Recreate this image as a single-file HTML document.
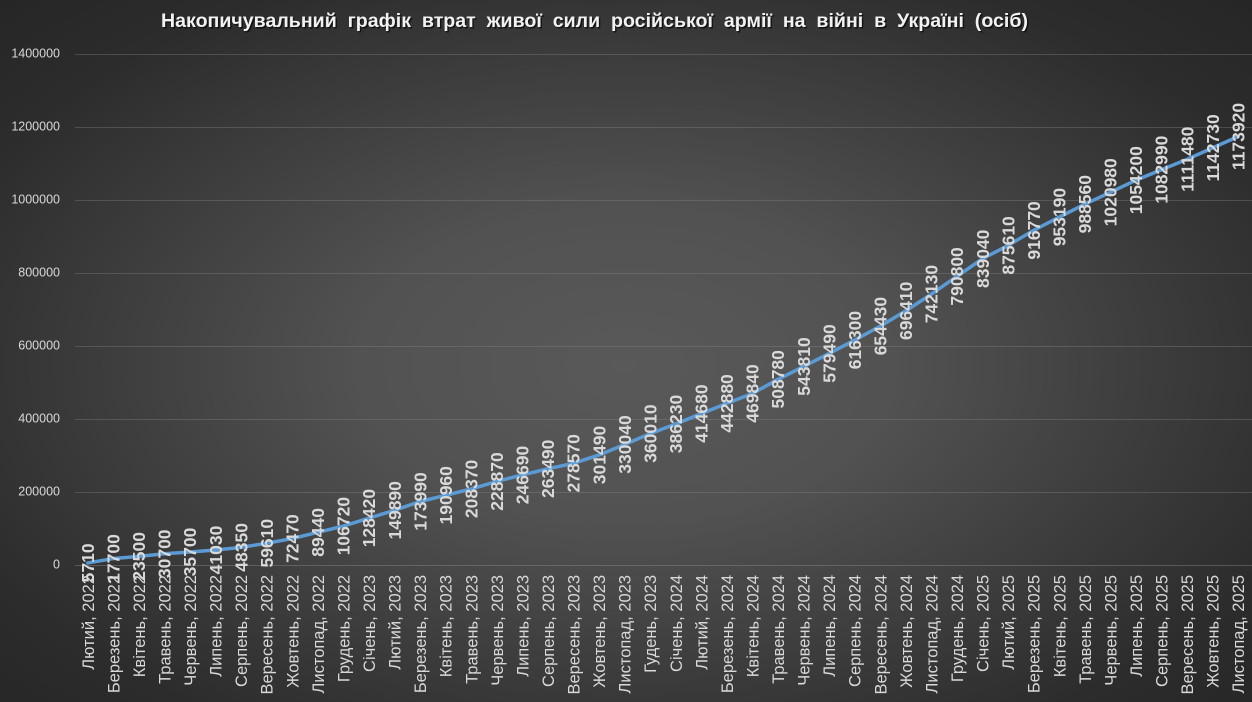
<!DOCTYPE html>
<html>
<head>
<meta charset="utf-8">
<style>
  html,body{margin:0;padding:0;}
  body{width:1252px;height:702px;overflow:hidden;
    background: radial-gradient(ellipse farthest-corner at 50% 52%, #595959 0%, #525252 30%, #2c2c2c 82%, #262626 100%);}
  svg{display:block;}
  .yl{font-family:"Liberation Sans",sans-serif;font-size:12.5px;fill:#d9d9d9;}
  .xl{font-family:"Liberation Sans",sans-serif;font-size:16.5px;fill:#d9d9d9;}
  .dl{font-family:"Liberation Sans",sans-serif;font-size:17.5px;font-weight:bold;fill:#d9d9d9;}
  .tt{font-family:"Liberation Sans",sans-serif;font-size:19px;font-weight:bold;white-space:pre;}
</style>
</head>
<body>
<svg width="1252" height="702" viewBox="0 0 1252 702" xmlns="http://www.w3.org/2000/svg">
  <!-- Title -->
  <text class="tt" x="162.5" y="28.5" fill="#0a0a0a" opacity="0.75" textLength="867" lengthAdjust="spacingAndGlyphs">Накопичувальний  графік  втрат  живої  сили  російської  армії  на  війні  в  Україні  (осіб)</text>
  <text class="tt" x="161" y="27" fill="#f2f2f2" textLength="867" lengthAdjust="spacingAndGlyphs">Накопичувальний  графік  втрат  живої  сили  російської  армії  на  війні  в  Україні  (осіб)</text>

  <!-- Gridlines -->
  <g stroke="#8a8a8a" stroke-opacity="0.35" stroke-width="1">
    <line x1="75" y1="54.5" x2="1252" y2="54.5"/>
    <line x1="75" y1="127.5" x2="1252" y2="127.5"/>
    <line x1="75" y1="200.5" x2="1252" y2="200.5"/>
    <line x1="75" y1="273.5" x2="1252" y2="273.5"/>
    <line x1="75" y1="346.5" x2="1252" y2="346.5"/>
    <line x1="75" y1="419.5" x2="1252" y2="419.5"/>
    <line x1="75" y1="492.5" x2="1252" y2="492.5"/>
    <line x1="75" y1="565.5" x2="1252" y2="565.5" stroke-opacity="0.45"/>
  </g>

  <!-- Y axis labels -->
  <g class="yl" text-anchor="end">
    <text x="60" y="57.5">1400000</text>
    <text x="60" y="130.5">1200000</text>
    <text x="60" y="203.5">1000000</text>
    <text x="60" y="276.5">800000</text>
    <text x="60" y="349.5">600000</text>
    <text x="60" y="422.5">400000</text>
    <text x="60" y="495.5">200000</text>
    <text x="60" y="568.5">0</text>
  </g>

  <!-- Series line -->
  <polyline fill="none" stroke="#5b9bd5" stroke-width="3.5" stroke-linejoin="round" stroke-linecap="round"
    points="87.78,562.92 113.35,558.54 138.91,556.42 164.48,553.79 190.04,551.97 215.61,550.02 241.17,547.35 266.74,543.24 292.30,538.55 317.87,532.35 343.43,526.05 369.00,518.13 394.56,510.29 420.13,501.49 445.69,495.30 471.26,488.94 496.82,481.46 522.39,474.96 547.95,468.83 573.52,463.32 599.08,454.96 624.65,444.54 650.21,433.60 675.78,424.03 701.34,413.64 726.91,403.35 752.47,393.51 778.04,379.30 803.60,366.51 829.17,353.49 854.73,340.05 880.30,326.13 905.86,310.81 931.43,294.12 956.99,276.36 982.56,258.75 1008.12,245.40 1033.69,230.38 1059.25,217.09 1084.82,204.18 1110.38,192.34 1135.95,180.22 1161.51,169.71 1187.08,159.31 1212.64,147.90 1238.21,136.52"/>

  <!-- X axis labels -->
  <g class="xl" text-anchor="end">
    <text transform="translate(93.8,575) rotate(-90)">Лютий, 2022</text>
    <text transform="translate(119.4,575) rotate(-90)">Березень, 2022</text>
    <text transform="translate(144.9,575) rotate(-90)">Квітень, 2022</text>
    <text transform="translate(170.5,575) rotate(-90)">Травень, 2022</text>
    <text transform="translate(196.0,575) rotate(-90)">Червень, 2022</text>
    <text transform="translate(221.6,575) rotate(-90)">Липень, 2022</text>
    <text transform="translate(247.2,575) rotate(-90)">Серпень, 2022</text>
    <text transform="translate(272.7,575) rotate(-90)">Вересень, 2022</text>
    <text transform="translate(298.3,575) rotate(-90)">Жовтень, 2022</text>
    <text transform="translate(323.9,575) rotate(-90)">Листопад, 2022</text>
    <text transform="translate(349.4,575) rotate(-90)">Грудень, 2022</text>
    <text transform="translate(375.0,575) rotate(-90)">Січень, 2023</text>
    <text transform="translate(400.6,575) rotate(-90)">Лютий, 2023</text>
    <text transform="translate(426.1,575) rotate(-90)">Березень, 2023</text>
    <text transform="translate(451.7,575) rotate(-90)">Квітень, 2023</text>
    <text transform="translate(477.3,575) rotate(-90)">Травень, 2023</text>
    <text transform="translate(502.8,575) rotate(-90)">Червень, 2023</text>
    <text transform="translate(528.4,575) rotate(-90)">Липень, 2023</text>
    <text transform="translate(554.0,575) rotate(-90)">Серпень, 2023</text>
    <text transform="translate(579.5,575) rotate(-90)">Вересень, 2023</text>
    <text transform="translate(605.1,575) rotate(-90)">Жовтень, 2023</text>
    <text transform="translate(630.7,575) rotate(-90)">Листопад, 2023</text>
    <text transform="translate(656.2,575) rotate(-90)">Гудень, 2023</text>
    <text transform="translate(681.8,575) rotate(-90)">Січень, 2024</text>
    <text transform="translate(707.3,575) rotate(-90)">Лютий, 2024</text>
    <text transform="translate(732.9,575) rotate(-90)">Березень, 2024</text>
    <text transform="translate(758.5,575) rotate(-90)">Квітень, 2024</text>
    <text transform="translate(784.0,575) rotate(-90)">Травень, 2024</text>
    <text transform="translate(809.6,575) rotate(-90)">Червень, 2024</text>
    <text transform="translate(835.2,575) rotate(-90)">Липень, 2024</text>
    <text transform="translate(860.7,575) rotate(-90)">Серпень, 2024</text>
    <text transform="translate(886.3,575) rotate(-90)">Вересень, 2024</text>
    <text transform="translate(911.9,575) rotate(-90)">Жовтень, 2024</text>
    <text transform="translate(937.4,575) rotate(-90)">Листопад, 2024</text>
    <text transform="translate(963.0,575) rotate(-90)">Грудень, 2024</text>
    <text transform="translate(988.6,575) rotate(-90)">Січень, 2025</text>
    <text transform="translate(1014.1,575) rotate(-90)">Лютий, 2025</text>
    <text transform="translate(1039.7,575) rotate(-90)">Березень, 2025</text>
    <text transform="translate(1065.3,575) rotate(-90)">Квітень, 2025</text>
    <text transform="translate(1090.8,575) rotate(-90)">Травень, 2025</text>
    <text transform="translate(1116.4,575) rotate(-90)">Червень, 2025</text>
    <text transform="translate(1142.0,575) rotate(-90)">Липень, 2025</text>
    <text transform="translate(1167.5,575) rotate(-90)">Серпень, 2025</text>
    <text transform="translate(1193.1,575) rotate(-90)">Вересень, 2025</text>
    <text transform="translate(1218.6,575) rotate(-90)">Жовтень, 2025</text>
    <text transform="translate(1244.2,575) rotate(-90)">Листопад, 2025</text>
  </g>

  <!-- Data labels -->
  <g class="dl" text-anchor="middle">
    <text transform="translate(94.0,562.9) rotate(-90)">5710</text>
    <text transform="translate(119.6,558.5) rotate(-90)">17700</text>
    <text transform="translate(145.1,556.4) rotate(-90)">23500</text>
    <text transform="translate(170.7,553.8) rotate(-90)">30700</text>
    <text transform="translate(196.2,552.0) rotate(-90)">35700</text>
    <text transform="translate(221.8,550.0) rotate(-90)">41030</text>
    <text transform="translate(247.4,547.4) rotate(-90)">48350</text>
    <text transform="translate(272.9,543.2) rotate(-90)">59610</text>
    <text transform="translate(298.5,538.6) rotate(-90)">72470</text>
    <text transform="translate(324.1,532.4) rotate(-90)">89440</text>
    <text transform="translate(349.6,526.1) rotate(-90)">106720</text>
    <text transform="translate(375.2,518.1) rotate(-90)">128420</text>
    <text transform="translate(400.8,510.3) rotate(-90)">149890</text>
    <text transform="translate(426.3,501.5) rotate(-90)">173990</text>
    <text transform="translate(451.9,495.3) rotate(-90)">190960</text>
    <text transform="translate(477.5,488.9) rotate(-90)">208370</text>
    <text transform="translate(503.0,481.5) rotate(-90)">228870</text>
    <text transform="translate(528.6,475.0) rotate(-90)">246690</text>
    <text transform="translate(554.2,468.8) rotate(-90)">263490</text>
    <text transform="translate(579.7,463.3) rotate(-90)">278570</text>
    <text transform="translate(605.3,455.0) rotate(-90)">301490</text>
    <text transform="translate(630.9,444.5) rotate(-90)">330040</text>
    <text transform="translate(656.4,433.6) rotate(-90)">360010</text>
    <text transform="translate(682.0,424.0) rotate(-90)">386230</text>
    <text transform="translate(707.5,413.6) rotate(-90)">414680</text>
    <text transform="translate(733.1,403.4) rotate(-90)">442880</text>
    <text transform="translate(758.7,393.5) rotate(-90)">469840</text>
    <text transform="translate(784.2,379.3) rotate(-90)">508780</text>
    <text transform="translate(809.8,366.5) rotate(-90)">543810</text>
    <text transform="translate(835.4,353.5) rotate(-90)">579490</text>
    <text transform="translate(860.9,340.1) rotate(-90)">616300</text>
    <text transform="translate(886.5,326.1) rotate(-90)">654430</text>
    <text transform="translate(912.1,310.8) rotate(-90)">696410</text>
    <text transform="translate(937.6,294.1) rotate(-90)">742130</text>
    <text transform="translate(963.2,276.4) rotate(-90)">790800</text>
    <text transform="translate(988.8,258.8) rotate(-90)">839040</text>
    <text transform="translate(1014.3,245.4) rotate(-90)">875610</text>
    <text transform="translate(1039.9,230.4) rotate(-90)">916770</text>
    <text transform="translate(1065.5,217.1) rotate(-90)">953190</text>
    <text transform="translate(1091.0,204.2) rotate(-90)">988560</text>
    <text transform="translate(1116.6,192.3) rotate(-90)">1020980</text>
    <text transform="translate(1142.2,180.2) rotate(-90)">1054200</text>
    <text transform="translate(1167.7,169.7) rotate(-90)">1082990</text>
    <text transform="translate(1193.3,159.3) rotate(-90)">1111480</text>
    <text transform="translate(1218.8,147.9) rotate(-90)">1142730</text>
    <text transform="translate(1244.4,136.5) rotate(-90)">1173920</text>
  </g>
</svg>
</body>
</html>
